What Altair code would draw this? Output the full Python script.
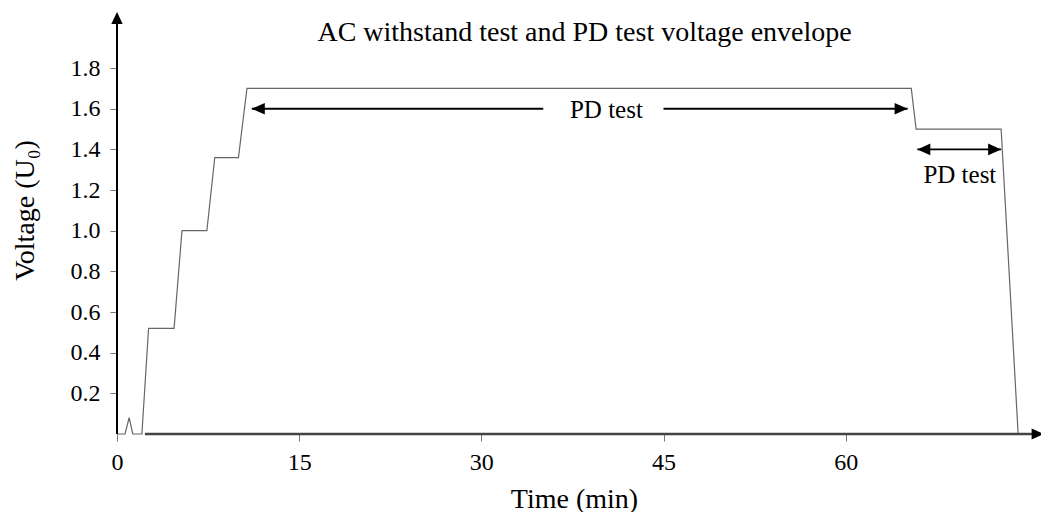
import altair as alt
import pandas as pd

FONT = "Liberation Serif"

# Voltage envelope of the AC withstand / PD test (time in minutes, voltage in U0)
env_time = [0, 0.66, 1.0, 1.3, 2.05, 2.6, 4.7, 5.35, 7.4, 8.05, 10.0, 10.7, 65.4, 65.8, 72.8, 74.2]
env_volt = [0, 0, 0.08, 0, 0, 0.52, 0.52, 1.0, 1.0, 1.36, 1.36, 1.70, 1.70, 1.50, 1.50, 0]

# Double-headed "PD test" arrows (line pieces, leaving a gap for the label)
seg_start = [11.1, 45.0, 65.9]
seg_end = [35.1, 65.1, 72.8]
seg_volt = [1.6, 1.6, 1.4]
head_time = [11.1, 65.1, 65.9, 72.8]
head_volt = [1.6, 1.6, 1.4, 1.4]
head_dir = ["left", "right", "left", "right"]

label_text = ["PD test", "PD test"]
label_time = [40.3, 69.4]
label_volt = [1.554, 1.235]

title_text = "AC withstand test and PD test voltage envelope"

x_ticks = [0, 15, 30, 45, 60]
y_ticks = [0.2, 0.4, 0.6, 0.8, 1.0, 1.2, 1.4, 1.6, 1.8]

X_MAX = 76.0
Y_MAX = 2.076

xs = alt.Scale(domain=[0, X_MAX], nice=False, zero=False)
ys = alt.Scale(domain=[0, Y_MAX], nice=False, zero=False)

PATHS = {
    "left": "M0,0L2,-0.9L2,0.9Z",
    "right": "M0,0L-2,-0.9L-2,0.9Z",
    "up": "M0,0L-0.95,2L0.95,2Z",
}
shape_scale = alt.Scale(domain=list(PATHS), range=list(PATHS.values()))

env = pd.DataFrame({"t": env_time, "v": env_volt, "order": range(len(env_time))})
segs = pd.DataFrame({"t": seg_start, "t2": seg_end, "v": seg_volt})
heads = pd.DataFrame({"t": head_time, "v": head_volt, "dir": head_dir})
labels = pd.DataFrame({"t": label_time, "v": label_volt, "text": label_text})

x_axis = alt.Axis(
    values=x_ticks, domain=False, grid=False, tickColor="#777", tickSize=7, tickWidth=1,
    labelFont=FONT, labelFontSize=24, labelColor="black", labelPadding=9, labelFlush=False,
    title="Time (min)", titleFont=FONT, titleFontSize=28, titleFontWeight="normal",
    titleColor="black", titleX=457, titleY=73, titleBaseline="alphabetic", titleAlign="center",
)
y_axis = alt.Axis(
    values=y_ticks, format=".1f", domain=False, grid=False, tickColor="#777", tickSize=7,
    tickWidth=1, labelFont=FONT, labelFontSize=24, labelColor="black", labelPadding=10,
    labelFlush=False,
    title="Voltage (U₀)", titleFont=FONT, titleFontSize=28, titleFontWeight="normal",
    titleColor="black", titleX=-84, titleY=198, titleAngle=270, titleBaseline="alphabetic",
    titleAlign="center",
)

envelope = alt.Chart(env).mark_line(color="#666", strokeWidth=1.2).encode(
    x=alt.X("t:Q", scale=xs, axis=x_axis),
    y=alt.Y("v:Q", scale=ys, axis=y_axis),
    order="order:Q",
)

# Axis lines with arrowheads
x_line = alt.Chart(pd.DataFrame({"t": [2.3], "t2": [75.5], "v": [0]})).mark_rule(
    color="#444", strokeWidth=2.5
).encode(x=alt.X("t:Q", scale=xs), x2="t2:Q", y=alt.Y("v:Q", scale=ys))
y_line = alt.Chart(pd.DataFrame({"t": [0], "v": [0], "v2": [2.02]})).mark_rule(
    color="black", strokeWidth=2
).encode(x=alt.X("t:Q", scale=xs), y=alt.Y("v:Q", scale=ys), y2="v2:Q")
axis_heads = alt.Chart(
    pd.DataFrame({"t": [0, 76.3], "v": [Y_MAX, 0], "dir": ["up", "right"]})
).mark_point(filled=True, color="black", opacity=1, size=144).encode(
    x=alt.X("t:Q", scale=xs), y=alt.Y("v:Q", scale=ys),
    shape=alt.Shape("dir:N", scale=shape_scale, legend=None),
)

arrow_lines = alt.Chart(segs).mark_rule(color="black", strokeWidth=1.8).encode(
    x=alt.X("t:Q", scale=xs), x2="t2:Q", y=alt.Y("v:Q", scale=ys)
)
arrow_heads = alt.Chart(heads).mark_point(filled=True, color="black", opacity=1, size=169).encode(
    x=alt.X("t:Q", scale=xs), y=alt.Y("v:Q", scale=ys),
    shape=alt.Shape("dir:N", scale=shape_scale, legend=None),
)
arrow_text = alt.Chart(labels).mark_text(
    font=FONT, fontSize=25, color="black", align="center", baseline="alphabetic"
).encode(x=alt.X("t:Q", scale=xs), y=alt.Y("v:Q", scale=ys), text="text:N")

title = alt.Chart(pd.DataFrame({"t": [38.5], "v": [1.933], "text": [title_text]})).mark_text(
    font=FONT, fontSize=28, color="black", align="center", baseline="alphabetic"
).encode(x=alt.X("t:Q", scale=xs), y=alt.Y("v:Q", scale=ys), text="text:N")

chart = alt.layer(
    envelope, x_line, y_line, axis_heads, arrow_lines, arrow_heads, arrow_text, title
).properties(
    width=923, height=422,
    padding={"left": 117, "top": 12, "right": 1, "bottom": 78},
    autosize=alt.AutoSizeParams(type="none"),
    background="white",
).configure_view(stroke=None)

chart.save("out.html", embed_options={"renderer": "svg", "actions": False})
